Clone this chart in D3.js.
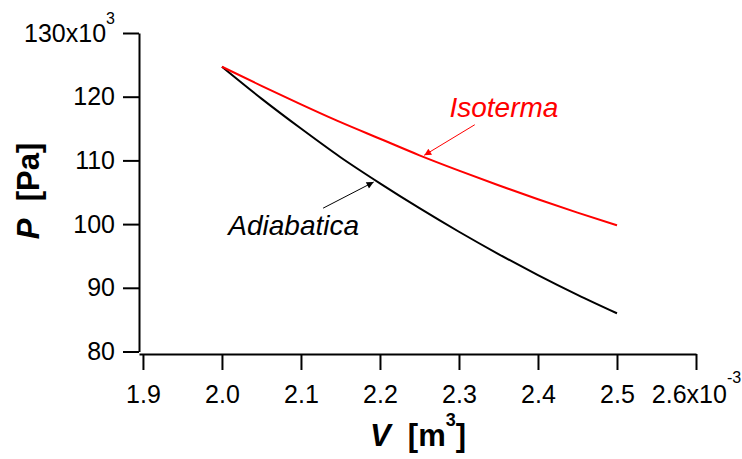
<!DOCTYPE html>
<html lang="en">
<head>
    <meta charset="UTF-8">
    <title>Isoterma e Adiabatica</title>
    <script src="https://d3js.org/d3.v7.min.js"></script>
    <style>
        body { margin: 0; background: #fff; font-family: "Liberation Sans", Arial, sans-serif; }
        .axis path, .axis line { stroke: #000; stroke-width: 2px; }
    </style>
</head>
<body>
<svg width="742" height="459"></svg>
<script>
    // volume in 10^-3 m^3, pressure in 10^3 Pa
    const volume = [2.0, 2.05, 2.1, 2.15, 2.2, 2.25, 2.3, 2.35, 2.4, 2.45, 2.5];
    const isoterma = [124.7, 121.7, 118.8, 116.0, 113.4, 110.8, 108.4, 106.1, 103.9, 101.8, 99.8];
    const adiabatica = [124.7, 119.7, 115.0, 110.5, 106.4, 102.5, 98.8, 95.3, 92.0, 88.9, 86.0];
    const xTicks = [1.9, 2.0, 2.1, 2.2, 2.3, 2.4, 2.5, 2.6];
    const yTicks = [80, 90, 100, 110, 120, 130];

    const svg = d3.select("svg");

    const x = d3.scaleLinear().domain([1.895, 2.6]).range([139, 696]);
    const y = d3.scaleLinear().domain([80, 130]).range([351.5, 33]);

    function styleTicks(g) {
        g.attr("font-size", 25).attr("font-family", "'Liberation Sans', Arial, sans-serif");
        g.selectAll(".tick text").attr("fill", "#000");
    }

    // y axis
    const gy = svg.append("g")
        .attr("class", "axis")
        .attr("transform", "translate(139,0)")
        .call(d3.axisLeft(y).tickValues(yTicks).tickSize(16).tickSizeOuter(0).tickPadding(8)
            .tickFormat(d3.format("d")))
        .call(styleTicks);
    gy.selectAll(".tick text").filter(d => d === 130).each(function() {
        const t = d3.select(this).text("130x10");
        t.append("tspan").attr("dy", -18).attr("font-size", 16).text("3");
    });

    // x axis
    const gx = svg.append("g")
        .attr("class", "axis")
        .attr("transform", "translate(0,354)")
        .call(d3.axisBottom(x).tickValues(xTicks).tickSize(16).tickSizeOuter(0).tickPadding(15)
            .tickFormat(d3.format(".1f")))
        .call(styleTicks);
    gx.selectAll(".tick text").filter(d => d === 2.6).each(function() {
        const t = d3.select(this).text("2.6x10");
        t.append("tspan").attr("dy", -20).attr("font-size", 16).text("-3");
    });

    // curves
    const line = d3.line().x(d => x(d[0])).y(d => y(d[1])).curve(d3.curveMonotoneX);
    svg.append("path")
        .datum(volume.map((v, i) => [v, adiabatica[i]]))
        .attr("fill", "none").attr("stroke", "#000").attr("stroke-width", 2)
        .attr("d", line);
    svg.append("path")
        .datum(volume.map((v, i) => [v, isoterma[i]]))
        .attr("fill", "none").attr("stroke", "#ff0000").attr("stroke-width", 2)
        .attr("d", line);

    // arrow markers
    const defs = svg.append("defs");
    [["arrRed", "#ff0000"], ["arrBlack", "#000"]].forEach(([id, c]) => {
        defs.append("marker")
            .attr("id", id)
            .attr("viewBox", "0 0 10 10")
            .attr("refX", 10).attr("refY", 5)
            .attr("markerWidth", 10).attr("markerHeight", 7)
            .attr("markerUnits", "userSpaceOnUse")
            .attr("orient", "auto")
          .append("path")
            .attr("d", "M0,0L10,5L0,10Z")
            .attr("fill", c);
    });

    // annotations (data coordinates)
    svg.append("line")
        .attr("x1", x(2.320)).attr("y1", y(115.6))
        .attr("x2", x(2.256)).attr("y2", y(110.8))
        .attr("stroke", "#ff0000").attr("stroke-width", 1)
        .attr("marker-end", "url(#arrRed)");
    svg.append("line")
        .attr("x1", x(2.128)).attr("y1", y(102.5))
        .attr("x2", x(2.192)).attr("y2", y(106.6))
        .attr("stroke", "#000").attr("stroke-width", 1)
        .attr("marker-end", "url(#arrBlack)");

    svg.append("text")
        .attr("x", x(2.288)).attr("y", y(116.8))
        .attr("fill", "#ff0000")
        .style("font-size", "28px").style("font-style", "italic")
        .text("Isoterma");
    svg.append("text")
        .attr("x", x(2.008)).attr("y", y(98.3))
        .attr("fill", "#000")
        .style("font-size", "28px").style("font-style", "italic")
        .text("Adiabatica");

    // axis titles
    const xt = svg.append("text")
        .attr("x", 418).attr("y", 446)
        .attr("text-anchor", "middle")
        .style("font-size", "31px").style("font-weight", "bold");
    xt.append("tspan").style("font-style", "italic").text("V");
    xt.append("tspan").text("\u00a0 [m");
    xt.append("tspan").attr("dy", -20).style("font-size", "18px").text("3");
    xt.append("tspan").attr("dy", 20).text("]");

    const yt = svg.append("text")
        .attr("transform", "translate(39,191) rotate(-90)")
        .attr("text-anchor", "middle")
        .style("font-size", "31px").style("font-weight", "bold");
    yt.append("tspan").style("font-style", "italic").text("P");
    yt.append("tspan").text("\u00a0 [Pa]");
</script>
</body>
</html>
